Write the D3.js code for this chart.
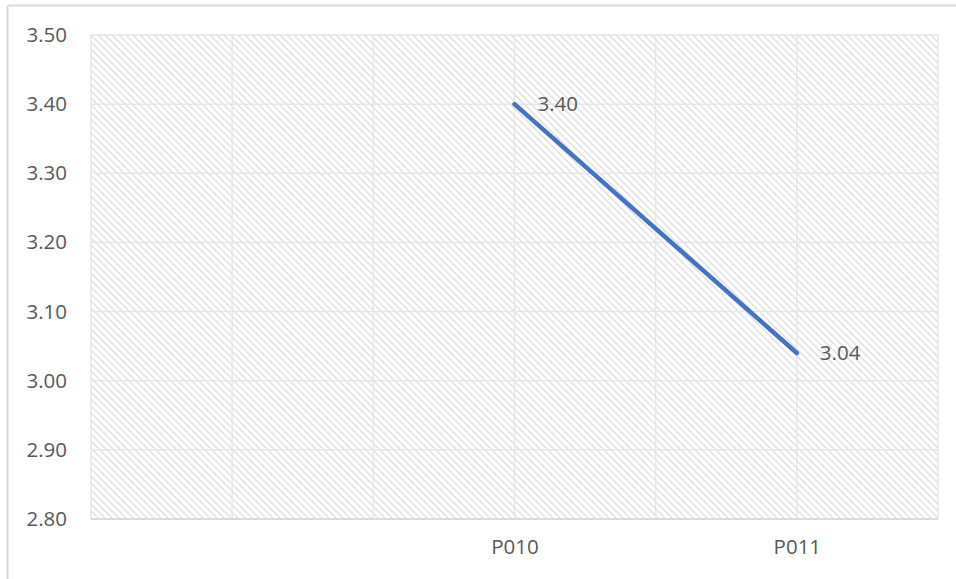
<!DOCTYPE html>
<html>
<head>
<meta charset="utf-8">
<script src="https://cdn.jsdelivr.net/npm/d3@7"></script>
<style>
  html, body { margin: 0; padding: 0; background: #fff; }
  svg { display: block; }
  text { font-family: "Open Sans", "Noto Sans", sans-serif; fill: #595959; }
</style>
</head>
<body>
<script>
// Category slots along the x axis (blank slots carry no label and no value)
const categories = ["", "", "", "P010", "", "P011", ""];
const values = [null, null, null, 3.40, null, 3.04, null];
const yTicks = [2.80, 2.90, 3.00, 3.10, 3.20, 3.30, 3.40, 3.50];

const W = 956, H = 579;
const plot = { left: 91, top: 35, right: 938, bottom: 519 };
const FONT = 20.5;

const svg = d3.select("body").append("svg").attr("width", W).attr("height", H);

// Diagonal hatch fill for the plot area
const defs = svg.append("defs");
const pat = defs.append("pattern")
  .attr("id", "hatch")
  .attr("patternUnits", "userSpaceOnUse")
  .attr("width", 7).attr("height", 7);
pat.append("rect").attr("width", 7).attr("height", 7).attr("fill", "#fff");
pat.append("path")
  .attr("d", "M-1,-1 L8,8 M-1,6 L1,8 M6,-1 L8,1")
  .attr("stroke", "#e0e0e0").attr("stroke-width", 1.4);

// Outer chart frame (only top and left edges fall inside the view)
svg.append("line").attr("x1", 7.5).attr("x2", W).attr("y1", 5.5).attr("y2", 5.5)
  .attr("stroke", "#d9d9d9").attr("stroke-width", 2);
svg.append("line").attr("x1", 7.5).attr("x2", 7.5).attr("y1", 5.5).attr("y2", H)
  .attr("stroke", "#d9d9d9").attr("stroke-width", 2);

const x = d3.scalePoint()
  .domain(d3.range(categories.length))
  .range([plot.left, plot.right]);

const y = d3.scaleLinear()
  .domain([2.80, 3.50])
  .range([plot.bottom, plot.top]);

svg.append("rect")
  .attr("x", plot.left).attr("y", plot.top)
  .attr("width", plot.right - plot.left).attr("height", plot.bottom - plot.top)
  .attr("fill", "url(#hatch)");

// Gridlines
const grid = svg.append("g").attr("stroke", "#e6e6e6").attr("stroke-width", 1.5);
grid.selectAll("line.h").data(yTicks).join("line").attr("class", "h")
  .attr("x1", plot.left).attr("x2", plot.right)
  .attr("y1", d => y(d)).attr("y2", d => y(d));
grid.selectAll("line.v").data(d3.range(categories.length)).join("line").attr("class", "v")
  .attr("y1", plot.top).attr("y2", plot.bottom)
  .attr("x1", d => x(d)).attr("x2", d => x(d));

// Bottom axis line
svg.append("line")
  .attr("x1", plot.left).attr("x2", plot.right)
  .attr("y1", plot.bottom).attr("y2", plot.bottom)
  .attr("stroke", "#d9d9d9").attr("stroke-width", 2);

// Y axis labels
const yAxis = d3.axisLeft(y).tickValues(yTicks).tickFormat(d3.format(".2f")).tickSize(0).tickPadding(24);
const gy = svg.append("g").attr("transform", `translate(${plot.left},0)`).call(yAxis);
gy.select(".domain").remove();
gy.selectAll("text").attr("font-size", FONT).style("font-family", "\"Open Sans\", sans-serif").attr("fill", "#595959");

// X axis labels
const xAxis = d3.axisBottom(x).tickFormat(i => categories[i]).tickSize(0).tickPadding(20);
const gx = svg.append("g").attr("transform", `translate(0,${plot.bottom})`).call(xAxis);
gx.select(".domain").remove();
gx.selectAll("text").attr("font-size", FONT).style("font-family", "\"Open Sans\", sans-serif").attr("fill", "#595959");

// Series line
const pts = values.map((v, i) => ({ i, v })).filter(d => d.v !== null);
svg.append("path")
  .datum(pts)
  .attr("fill", "none")
  .attr("stroke", "#4472C4")
  .attr("stroke-width", 4.5)
  .attr("stroke-linecap", "round")
  .attr("stroke-linejoin", "round")
  .attr("d", d3.line().x(d => x(d.i)).y(d => y(d.v)));

// Data labels
svg.selectAll("text.lbl").data(pts).join("text").attr("class", "lbl")
  .attr("x", d => x(d.i) + 23)
  .attr("y", d => y(d.v))
  .attr("dy", "0.35em")
  .attr("font-size", FONT)
  .text(d => d3.format(".2f")(d.v));
</script>
</body>
</html>
